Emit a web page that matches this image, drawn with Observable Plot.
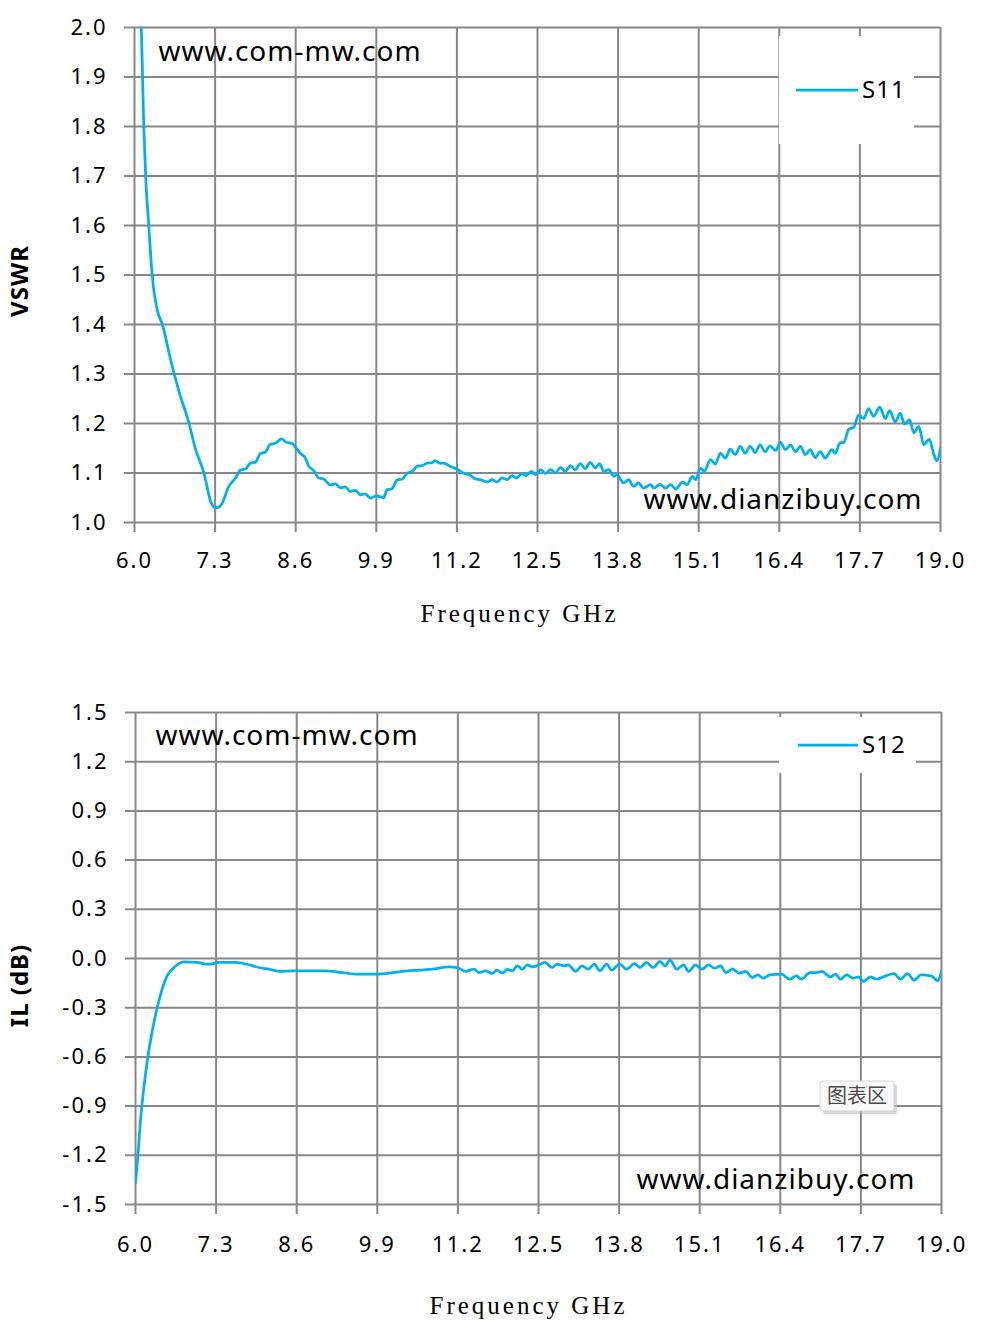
<!DOCTYPE html>
<html>
<head>
<meta charset="utf-8">
<script src="https://cdn.jsdelivr.net/npm/d3@7"></script>
<script src="https://cdn.jsdelivr.net/npm/@observablehq/plot@0.6"></script>
<style>
  html, body { margin: 0; padding: 0; background: #fff; }
  #wrap { width: 986px; }
  #wrap svg { display: block; }
</style>
</head>
<body>
<div id="wrap"></div>
<script>
// ---------- data ----------
const freqTicks = [6.0, 7.3, 8.6, 9.9, 11.2, 12.5, 13.8, 15.1, 16.4, 17.7, 19.0];
const vswrTicks = [1.0, 1.1, 1.2, 1.3, 1.4, 1.5, 1.6, 1.7, 1.8, 1.9, 2.0];
const ilTicks = [-1.5, -1.2, -0.9, -0.6, -0.3, 0.0, 0.3, 0.6, 0.9, 1.2, 1.5];

const s11Freq = [
  6.00, 6.06, 6.11, 6.15, 6.18, 6.23, 6.285, 6.37, 6.45, 6.58, 6.71, 6.88, 6.98, 7.12, 7.23, 7.30, 7.36, 7.41,
  7.52, 7.63, 7.71, 7.79, 7.87, 7.95, 8.03, 8.11, 8.19, 8.27, 8.37, 8.45, 8.54, 8.61, 8.68, 8.75, 8.81, 8.89,
  8.97, 9.05, 9.16, 9.24, 9.32, 9.40, 9.48, 9.56, 9.65, 9.72, 9.81, 9.89, 9.97, 10.02, 10.07, 10.15, 10.24,
  10.32, 10.40, 10.48, 10.56, 10.64, 10.72, 10.80, 10.85, 10.92, 10.99, 11.10, 11.20, 11.30, 11.42, 11.50,
  11.58, 11.69, 11.77, 11.85, 11.93, 12.01, 12.09, 12.16, 12.25, 12.32, 12.40, 12.47, 12.55, 12.63, 12.71,
  12.79, 12.87, 12.95, 13.03, 13.11, 13.19, 13.27, 13.35, 13.43, 13.50, 13.57, 13.65, 13.73, 13.78, 13.89,
  13.97, 14.05, 14.13, 14.21, 14.32, 14.38, 14.48, 14.56, 14.65, 14.73, 14.84, 14.91, 15.00, 15.05, 15.13,
  15.19, 15.29, 15.37, 15.45, 15.53, 15.61, 15.69, 15.77, 15.85, 15.93, 16.01, 16.09, 16.17, 16.25, 16.34,
  16.42, 16.50, 16.58, 16.66, 16.74, 16.82, 16.90, 16.98, 17.06, 17.14, 17.25, 17.30, 17.38, 17.44, 17.52,
  17.60, 17.68, 17.76, 17.84, 17.92, 18.02, 18.11, 18.18, 18.27, 18.35, 18.42, 18.50, 18.57, 18.65, 18.73,
  18.82, 18.89, 18.94, 19.00
];
const s11Vswr = [
  2.80, 2.30, 2.00, 1.80, 1.70, 1.60, 1.50, 1.428, 1.40, 1.33, 1.268, 1.20, 1.15, 1.10, 1.042, 1.030, 1.031, 1.038,
  1.073, 1.090, 1.106, 1.108, 1.120, 1.122, 1.139, 1.142, 1.158, 1.160, 1.169, 1.162, 1.160, 1.150, 1.139, 1.132, 1.114, 1.105,
  1.090, 1.088, 1.076, 1.078, 1.070, 1.072, 1.063, 1.065, 1.056, 1.058, 1.049, 1.054, 1.052, 1.050, 1.066, 1.068, 1.086,
  1.088, 1.100, 1.103, 1.114, 1.115, 1.120, 1.121, 1.125, 1.120, 1.120, 1.113, 1.108, 1.100, 1.095, 1.088,
  1.0865, 1.082, 1.0865, 1.082, 1.090, 1.0865, 1.0946, 1.090, 1.0987, 1.0946, 1.1034, 1.0966, 1.1067, 1.0987, 1.1067,
  1.100, 1.1115, 1.1034, 1.1148, 1.1067, 1.1189, 1.1088, 1.1216, 1.1101, 1.1189, 1.1034, 1.1067, 1.0933, 1.0966, 1.0798,
  1.0865, 1.073, 1.0798, 1.0696, 1.0764, 1.0696, 1.0777, 1.0696, 1.0764, 1.0676, 1.0818, 1.0764, 1.0933, 1.0865, 1.110,
  1.1034, 1.127, 1.118, 1.140, 1.130, 1.148, 1.137, 1.154, 1.140, 1.154, 1.141, 1.157, 1.143, 1.155, 1.1455,
  1.162, 1.147, 1.157, 1.143, 1.154, 1.137, 1.147, 1.131, 1.143, 1.130, 1.147, 1.140, 1.161, 1.162, 1.188,
  1.192, 1.217, 1.210, 1.230, 1.2145, 1.233, 1.210, 1.226, 1.203, 1.221, 1.199, 1.2076, 1.181, 1.194, 1.157,
  1.168, 1.139, 1.125, 1.150
];

const s12Freq = [
  6.00, 6.04, 6.08, 6.135, 6.19, 6.27, 6.35, 6.43, 6.51, 6.62, 6.78, 6.99, 7.18, 7.34, 7.61, 7.80, 7.99, 8.15,
  8.34, 8.53, 8.80, 9.06, 9.33, 9.60, 9.82, 10.03, 10.30, 10.57, 10.79, 11.05, 11.19, 11.32, 11.46, 11.54,
  11.65, 11.75, 11.83, 11.92, 12.00, 12.08, 12.16, 12.24, 12.32, 12.40, 12.50, 12.60, 12.72, 12.80, 12.91,
  12.98, 13.10, 13.20, 13.30, 13.40, 13.49, 13.60, 13.68, 13.81, 13.92, 14.05, 14.14, 14.24, 14.35, 14.46,
  14.54, 14.62, 14.73, 14.84, 14.92, 15.03, 15.14, 15.24, 15.34, 15.44, 15.52, 15.63, 15.74, 15.84, 15.95,
  16.04, 16.12, 16.23, 16.42, 16.55, 16.66, 16.74, 16.88, 16.98, 17.07, 17.21, 17.29, 17.37, 17.47, 17.58,
  17.66, 17.74, 17.85, 17.96, 18.10, 18.23, 18.34, 18.45, 18.56, 18.67, 18.83, 18.94, 19.00
];
const s12IL = [
  -1.369, -1.196, -0.990, -0.788, -0.625, -0.442, -0.300, -0.187, -0.106, -0.055, -0.020, -0.024, -0.035, -0.024, -0.024, -0.035, -0.055, -0.065,
  -0.079, -0.075, -0.075, -0.075, -0.086, -0.096, -0.096, -0.092, -0.079, -0.071, -0.065, -0.051, -0.055, -0.079, -0.065, -0.086,
  -0.075, -0.092, -0.071, -0.088, -0.067, -0.075, -0.045, -0.065, -0.039, -0.051, -0.040, -0.024, -0.055, -0.035, -0.045,
  -0.039, -0.079, -0.045, -0.065, -0.035, -0.075, -0.035, -0.071, -0.035, -0.065, -0.031, -0.055, -0.024, -0.055, -0.018,
  -0.045, -0.010, -0.065, -0.039, -0.079, -0.039, -0.065, -0.039, -0.059, -0.045, -0.086, -0.065, -0.090, -0.079, -0.116,
  -0.100, -0.120, -0.100, -0.096, -0.126, -0.106, -0.126, -0.086, -0.086, -0.079, -0.112, -0.096, -0.126, -0.100, -0.120,
  -0.112, -0.140, -0.112, -0.126, -0.106, -0.092, -0.126, -0.092, -0.132, -0.100, -0.106, -0.136, -0.079
];

const s11 = s11Freq.map((f, i) => ({ f, v: s11Vswr[i] }));
const s12 = s12Freq.map((f, i) => ({ f, v: s12IL[i] }));

// ---------- styles ----------
const GRID = "#888888";
const LINE = "#00B0F0";
const SANS = "'Noto Sans', 'Open Sans', sans-serif";

function chart(opts) {
  const svg = Plot.plot({
    width: 986,
    height: opts.height,
    marginLeft: opts.ml, marginRight: opts.mr, marginTop: opts.mt, marginBottom: opts.mb,
    style: { fontFamily: SANS, background: "#fff", overflow: "visible" },
    x: { domain: [6, 19] },
    y: { domain: opts.yDomain },
    marks: [
      Plot.ruleX(freqTicks, { x: d => d, stroke: GRID, strokeWidth: 2, insetBottom: -10 }),
      Plot.ruleY(opts.yTicks, { y: d => d, stroke: GRID, strokeWidth: 2, insetLeft: -10 }),
      Plot.axisX(freqTicks, { tickSize: 0, tickPadding: opts.xPad, tickFormat: d => d.toFixed(1), fontSize: 22, label: null, fill: "#000" }),
      Plot.axisY(opts.yTicks, { tickSize: 0, tickPadding: 27, tickFormat: d => d.toFixed(1), fontSize: 22, label: null, fill: "#000" }),
      Plot.line(opts.data, { x: "f", y: "v", stroke: LINE, strokeWidth: 2.75, curve: "monotone-x", clip: true }),
      Plot.text([opts.wm1], { frameAnchor: "top-left", textAnchor: "start", lineAnchor: "middle", dx: opts.wm1dx, dy: opts.wm1dy, fontSize: 28, fill: "#000" }),
      Plot.text([opts.wm2], { frameAnchor: "bottom-right", textAnchor: "end", lineAnchor: "middle", dx: opts.wm2dx, dy: opts.wm2dy, fontSize: 28, fill: "#000" }),
      Plot.text([opts.xLabel], { frameAnchor: "bottom", textAnchor: "middle", lineAnchor: "middle", dx: opts.xlDx, dy: opts.xlDy, fontSize: 25, fill: "#000", fontFamily: "'Liberation Serif', serif" }),
      Plot.text([opts.yLabel], { frameAnchor: "left", textAnchor: "middle", lineAnchor: "middle", rotate: -90, dx: opts.ylDx, dy: opts.ylDy, fontSize: 24, fontWeight: "bold", fill: "#000" })
    ]
  });
  const s = d3.select(svg);
  s.selectAll('[aria-label="x-axis tick label"] text, [aria-label="y-axis tick label"] text').style("letter-spacing", "2px");
  s.selectAll("text").filter(function () { return this.textContent === opts.xLabel; }).style("letter-spacing", "3px");
  s.selectAll("text").filter(function () { return this.textContent === opts.wm1 || this.textContent === opts.wm2; }).style("letter-spacing", "1px");
  s.selectAll("text").filter(function () { return this.textContent === opts.yLabel; }).style("letter-spacing", "1px");

  // legend box
  const L = opts.legend;
  const g = s.append("g");
  g.append("rect").attr("x", L.x).attr("y", L.y).attr("width", L.w).attr("height", L.h).attr("fill", "#fff");
  g.append("line").attr("x1", L.lx1).attr("x2", L.lx2).attr("y1", L.ly).attr("y2", L.ly)
    .attr("stroke", LINE).attr("stroke-width", 2.75);
  g.append("text").attr("x", L.tx).attr("y", L.ly).attr("dy", "0.35em").attr("font-size", 24)
    .attr("text-anchor", "start").attr("fill", "#000").style("letter-spacing", "1px").text(L.label);

  if (opts.tip) {
    const T = opts.tip;
    const tg = s.append("g");
    tg.append("rect").attr("x", T.x + 3).attr("y", T.y + 3).attr("width", T.w).attr("height", T.h).attr("rx", 3)
      .attr("fill", "#bdbdbd").attr("opacity", 0.6);
    tg.append("rect").attr("x", T.x).attr("y", T.y).attr("width", T.w).attr("height", T.h).attr("rx", 3)
      .attr("fill", "#fafafa").attr("stroke", "#d6d6d6").attr("stroke-width", 1);
    tg.append("text").attr("x", T.x + T.w / 2).attr("y", T.y + T.h / 2).attr("dy", "0.36em")
      .attr("text-anchor", "middle").attr("font-size", 20).attr("fill", "#4a4a4a")
      .attr("font-family", "'Noto Sans CJK SC', sans-serif").text(T.text);
  }
  return svg;
}

const wrap = document.getElementById("wrap");

wrap.appendChild(chart({
  height: 660, ml: 134, mr: 46, mt: 27, mb: 138,
  yDomain: [1.0, 2.0], yTicks: vswrTicks, data: s11, xPad: 30,
  wm1: "www.com-mw.com", wm1dx: 24, wm1dy: 25,
  wm2: "www.dianzibuy.com", wm2dx: -18, wm2dy: -22,
  xLabel: "Frequency GHz", xlDx: -18, xlDy: 91,
  yLabel: "VSWR", ylDx: -114, ylDy: 6,
  legend: { x: 779, y: 36, w: 135, h: 108, lx1: 796, lx2: 858, ly: 90, tx: 862, label: "S11" }
}));

wrap.appendChild(chart({
  height: 671, ml: 135, mr: 45, mt: 52, mb: 127,
  yDomain: [-1.5, 1.5], yTicks: ilTicks, data: s12, xPad: 32,
  wm1: "www.com-mw.com", wm1dx: 20, wm1dy: 24,
  wm2: "www.dianzibuy.com", wm2dx: -26, wm2dy: -24,
  xLabel: "Frequency GHz", xlDx: -10, xlDy: 101,
  yLabel: "IL (dB)", ylDx: -115, ylDy: 27,
  legend: { x: 779, y: 57, w: 137, h: 56, lx1: 798, lx2: 858, ly: 85, tx: 862, label: "S12" },
  tip: { x: 820, y: 421, w: 74, h: 30, text: "图表区" }
}));
</script>
</body>
</html>
